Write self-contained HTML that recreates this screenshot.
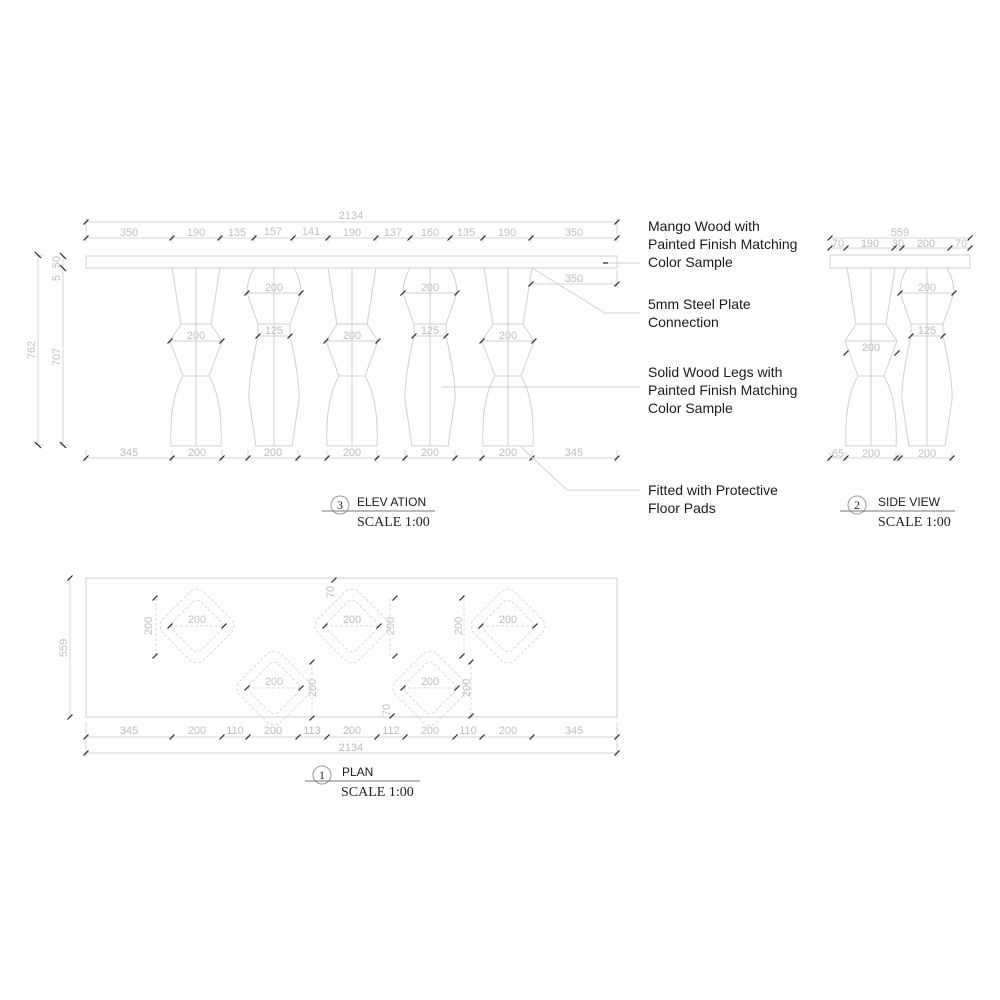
<!DOCTYPE html>
<html><head><meta charset="utf-8"><style>
html,body{margin:0;padding:0;background:#fff}
svg{display:block}
.l{stroke:#cfcfcf;stroke-width:1;fill:none}
.d{stroke:#d4d4d4;stroke-width:1;fill:none}
.dash{stroke:#d8d8d8;stroke-width:1;fill:none;stroke-dasharray:3 2}
.t{font-family:"Liberation Sans",sans-serif;font-size:11px;fill:#bdbdbd;text-anchor:middle}
.a{font-family:"Liberation Sans",sans-serif;font-size:14px;fill:#1a1a1a}
.s{font-family:"Liberation Serif",serif;font-size:14px;fill:#222}
.k{stroke:#222;stroke-width:1.2}
</style></head><body>
<svg width="1000" height="1000" viewBox="0 0 1000 1000" xmlns="http://www.w3.org/2000/svg">
<defs>
<g id="legA">
<path class="l" d="M-24,268 L-15,324 L-26,341 L-13,376 Q-27,400 -25,446 L25,446 Q27,400 13,376 L26,341 L15,324 L24,268"/>
<path class="l" d="M-15,324H15 M-26,341H26 M-13,376H13 M0,268V446"/>
</g>
<g id="legB">
<path class="l" d="M-20,268 Q-27,280 -27,293 L-16,324 L-16,336 Q-26,380 -25,400 L-18,446 L18,446 L25,400 Q26,380 16,336 L16,324 L27,293 Q27,280 20,268"/>
<path class="l" d="M-27,293H27 M-16,324H16 M-16,336H16 M0,268V446"/>
</g>
<g id="dia">
<rect class="dash" x="-29" y="-29" width="58" height="58" rx="10" transform="rotate(45)"/>
<rect class="dash" x="-20" y="-20" width="40" height="40" rx="6" transform="rotate(45)"/>
<path class="dash" d="M-27,0H27"/>
</g>
<g id="tk"><path class="k" d="M-2.5,2.5L2.5,-2.5"/></g>
</defs>

<!-- ELEVATION -->
<rect class="l" x="86" y="256" width="531" height="12"/>
<use href="#legA" x="196"/><use href="#legB" x="274"/><use href="#legA" x="352"/><use href="#legB" x="430"/><use href="#legA" x="508"/>
<g class="t">
<text x="196" y="339">200</text><text x="352" y="339">200</text><text x="508" y="339">200</text>
<text x="274" y="291">200</text><text x="430" y="291">200</text>
<text x="274" y="334">125</text><text x="430" y="334">125</text>
</g>
<path class="d" d="M86,222H617 M86,238H617 M86,218V243 M617,218V243 M172,234V243 M220,234V243 M254,234V243 M293,234V243 M328,234V243 M376,234V243 M410,234V243 M450,234V243 M483,234V243 M531,234V243"/>
<g fill="none"><use href="#tk" x="86" y="222"/><use href="#tk" x="617" y="222"/>
<use href="#tk" x="86" y="238"/><use href="#tk" x="172" y="238"/><use href="#tk" x="220" y="238"/><use href="#tk" x="254" y="238"/><use href="#tk" x="293" y="238"/><use href="#tk" x="328" y="238"/><use href="#tk" x="376" y="238"/><use href="#tk" x="410" y="238"/><use href="#tk" x="450" y="238"/><use href="#tk" x="483" y="238"/><use href="#tk" x="531" y="238"/><use href="#tk" x="617" y="238"/></g>
<g class="t"><text x="351" y="219">2134</text>
<text x="129" y="236">350</text><text x="196" y="236">190</text><text x="237" y="236">135</text><text x="273" y="235">157</text><text x="311" y="235">141</text><text x="352" y="236">190</text><text x="393" y="236">137</text><text x="430" y="236">160</text><text x="466" y="236">135</text><text x="507" y="236">190</text><text x="574" y="236">350</text>
<text x="574" y="282">350</text></g>
<path class="d" d="M531,284H617 M617,270V288"/>
<use href="#tk" x="531" y="284"/><use href="#tk" x="617" y="284"/>
<path class="d" d="M86,458H617 M86,450V462 M617,450V462 M172,450V462 M222,450V462 M248,450V462 M298,450V462 M327,450V462 M377,450V462 M405,450V462 M455,450V462 M482,450V462 M532,450V462"/>
<g><use href="#tk" x="86" y="458"/><use href="#tk" x="172" y="458"/><use href="#tk" x="222" y="458"/><use href="#tk" x="248" y="458"/><use href="#tk" x="298" y="458"/><use href="#tk" x="327" y="458"/><use href="#tk" x="377" y="458"/><use href="#tk" x="405" y="458"/><use href="#tk" x="455" y="458"/><use href="#tk" x="482" y="458"/><use href="#tk" x="532" y="458"/><use href="#tk" x="617" y="458"/></g>
<g class="t"><text x="129" y="456">345</text><text x="197" y="456">200</text><text x="273" y="456">200</text><text x="352" y="456">200</text><text x="430" y="456">200</text><text x="508" y="456">200</text><text x="574" y="456">345</text></g>
<path class="d" d="M38,255V445 M63,268V445 M63,256V268 M34,255H44 M34,445H44 M59,445H69"/>
<path class="k" d="M35,252L41,258 M35,442L41,448 M60,442L66,448 M60,265L66,271 M60,253L66,259"/>
<g class="t"><text transform="translate(35,350) rotate(-90)">762</text><text transform="translate(60,357) rotate(-90)">707</text><text transform="translate(60,262) rotate(-90)">50</text><text transform="translate(60,278) rotate(-90)">5</text></g>

<path class="l" d="M605,263H640 M532,268L605,313H640 M442,387H640 M521,447L567,490H640"/>
<path class="k" d="M603,263H608"/>
<g class="a">
<text x="648" y="231">Mango Wood with</text><text x="648" y="249">Painted Finish Matching</text><text x="648" y="267">Color Sample</text>
<text x="648" y="309">5mm Steel Plate</text><text x="648" y="327">Connection</text>
<text x="648" y="377">Solid Wood Legs with</text><text x="648" y="395">Painted Finish Matching</text><text x="648" y="413">Color Sample</text>
<text x="648" y="495">Fitted with Protective</text><text x="648" y="513">Floor Pads</text>
</g>

<!-- SIDE VIEW -->
<rect class="l" x="830" y="255" width="140" height="13"/>
<use href="#legA" x="871"/><use href="#legB" x="927"/>
<g class="t"><text x="871" y="351">200</text><text x="927" y="291">200</text><text x="927" y="334">125</text>
<text x="900" y="236">559</text><text x="838" y="247">70</text><text x="870" y="247">190</text><text x="898" y="247">30</text><text x="926" y="247">200</text><text x="961" y="247">70</text>
<text x="838" y="457">65</text><text x="871" y="457">200</text><text x="927" y="457">200</text></g>
<path class="d" d="M830,238H970 M830,248H970 M830,458H952 M830,452V462 M846,452V462 M896,452V462 M900,452V462 M952,452V462"/>
<g><use href="#tk" x="830" y="238"/><use href="#tk" x="970" y="238"/><use href="#tk" x="830" y="248"/><use href="#tk" x="846" y="248"/><use href="#tk" x="894" y="248"/><use href="#tk" x="902" y="248"/><use href="#tk" x="950" y="248"/><use href="#tk" x="970" y="248"/>
<use href="#tk" x="830" y="458"/><use href="#tk" x="846" y="458"/><use href="#tk" x="896" y="458"/><use href="#tk" x="900" y="458"/><use href="#tk" x="952" y="458"/>
<use href="#tk" x="846" y="353"/><use href="#tk" x="897" y="353"/><use href="#tk" x="900" y="293"/><use href="#tk" x="954" y="293"/><use href="#tk" x="911" y="336"/><use href="#tk" x="943" y="336"/></g>
<g><use href="#tk" x="170" y="341"/><use href="#tk" x="222" y="341"/><use href="#tk" x="326" y="341"/><use href="#tk" x="378" y="341"/><use href="#tk" x="482" y="341"/><use href="#tk" x="534" y="341"/>
<use href="#tk" x="247" y="293"/><use href="#tk" x="301" y="293"/><use href="#tk" x="403" y="293"/><use href="#tk" x="457" y="293"/>
<use href="#tk" x="258" y="336"/><use href="#tk" x="290" y="336"/><use href="#tk" x="414" y="336"/><use href="#tk" x="446" y="336"/></g>

<g class="l" style="stroke:#999"><circle cx="340" cy="505" r="9"/><circle cx="857" cy="505" r="9"/><circle cx="322" cy="775" r="9"/></g>
<path d="M322,511H435 M840,511H955 M305,781H420" stroke="#777" stroke-width="1"/>
<g class="s"><text x="340" y="509" text-anchor="middle" font-size="12">3</text><text x="857" y="509" text-anchor="middle" font-size="12">2</text><text x="322" y="779" text-anchor="middle" font-size="12">1</text>
<text x="357" y="526">SCALE 1:00</text><text x="878" y="526">SCALE 1:00</text><text x="341" y="796">SCALE 1:00</text></g>
<g class="a" style="font-size:12px"><text x="357" y="506">ELEV ATION</text><text x="878" y="506">SIDE VIEW</text><text x="342" y="776">PLAN</text></g>

<!-- PLAN -->
<rect class="l" x="86" y="578" width="531" height="139"/>
<use href="#dia" x="197" y="626"/><use href="#dia" x="274" y="688"/><use href="#dia" x="352" y="626"/><use href="#dia" x="430" y="688"/><use href="#dia" x="508" y="626"/>
<g class="t"><text x="197" y="623">200</text><text x="274" y="685">200</text><text x="352" y="623">200</text><text x="430" y="685">200</text><text x="508" y="623">200</text>
<text transform="translate(152,626) rotate(-90)">200</text><text transform="translate(316,688) rotate(-90)">200</text><text transform="translate(394,626) rotate(-90)">200</text><text transform="translate(470,688) rotate(-90)">200</text><text transform="translate(462,626) rotate(-90)">200</text>
<text transform="translate(334,592) rotate(-90)">70</text><text transform="translate(390,710) rotate(-90)">70</text>
<text transform="translate(67,648) rotate(-90)">559</text></g>
<path class="dash" d="M156,598V656 M312,662V718 M390,598V656 M464,598V656 M471,662V718"/>
<path class="d" d="M70,578V717"/>
<g><use href="#tk" x="155" y="598"/><use href="#tk" x="155" y="656"/><use href="#tk" x="312" y="662"/><use href="#tk" x="312" y="718"/><use href="#tk" x="395" y="598"/><use href="#tk" x="395" y="656"/><use href="#tk" x="462" y="598"/><use href="#tk" x="462" y="656"/><use href="#tk" x="471" y="662"/><use href="#tk" x="471" y="716"/><use href="#tk" x="334" y="580"/><use href="#tk" x="392" y="716"/>
<use href="#tk" x="170" y="626"/><use href="#tk" x="224" y="626"/><use href="#tk" x="325" y="626"/><use href="#tk" x="379" y="626"/><use href="#tk" x="481" y="626"/><use href="#tk" x="535" y="626"/><use href="#tk" x="247" y="688"/><use href="#tk" x="301" y="688"/><use href="#tk" x="403" y="688"/><use href="#tk" x="457" y="688"/>
<use href="#tk" x="70" y="578"/><use href="#tk" x="70" y="717"/></g>
<path class="d" d="M86,737H617 M86,753H617 M86,722V757 M617,722V757"/>
<g><use href="#tk" x="86" y="737"/><use href="#tk" x="172" y="737"/><use href="#tk" x="222" y="737"/><use href="#tk" x="248" y="737"/><use href="#tk" x="298" y="737"/><use href="#tk" x="327" y="737"/><use href="#tk" x="377" y="737"/><use href="#tk" x="405" y="737"/><use href="#tk" x="455" y="737"/><use href="#tk" x="482" y="737"/><use href="#tk" x="532" y="737"/><use href="#tk" x="617" y="737"/><use href="#tk" x="86" y="753"/><use href="#tk" x="617" y="753"/></g>
<g class="t"><text x="129" y="734">345</text><text x="197" y="734">200</text><text x="235" y="734">110</text><text x="273" y="734">200</text><text x="312" y="734">113</text><text x="352" y="734">200</text><text x="391" y="734">112</text><text x="430" y="734">200</text><text x="468" y="734">110</text><text x="508" y="734">200</text><text x="574" y="734">345</text><text x="351" y="751">2134</text></g>
</svg>
</body></html>
